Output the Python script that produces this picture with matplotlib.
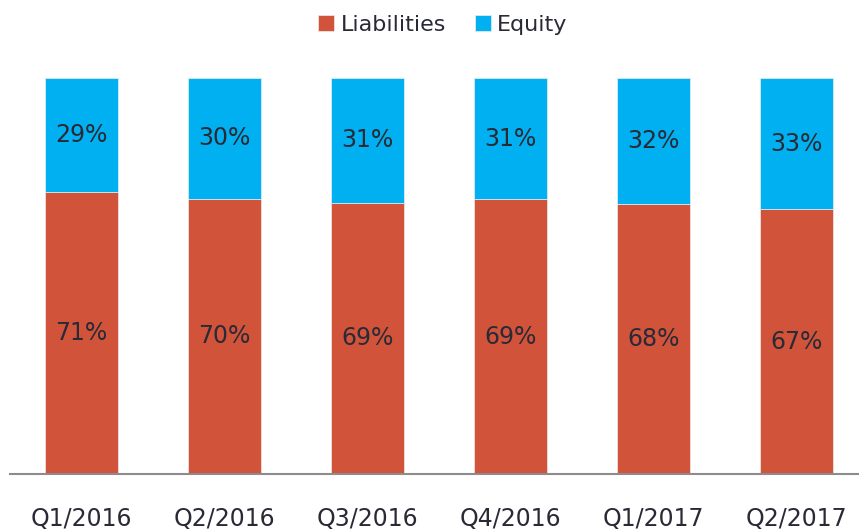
import matplotlib.pyplot as plt
import numpy as np

quarters = ['Q1/2016', 'Q2/2016', 'Q3/2016', 'Q4/2016', 'Q1/2017', 'Q2/2017']
# bar shares as drawn (labels are the rounded figures shown on the chart)
liabilities = [71.1, 69.5, 68.5, 69.4, 68.2, 66.9]
equity = [28.9, 30.5, 31.5, 30.6, 31.8, 33.1]
liab_labels = ['71%', '70%', '69%', '69%', '68%', '67%']
equity_labels = ['29%', '30%', '31%', '31%', '32%', '33%']

red = '#d1533a'
blue = '#00b0f0'
text_col = '#2a2a36'

fig = plt.figure(figsize=(8.59, 5.32), dpi=100)
ax = fig.add_axes([10 / 859, 1 - 474 / 532, 858 / 859, 396 / 532])

x = np.arange(len(quarters))
b1 = ax.bar(x, liabilities, width=0.51, color=red, edgecolor='#eeeeee', linewidth=0.5,
            label='Liabilities')
b2 = ax.bar(x, equity, width=0.51, bottom=liabilities, color=blue, edgecolor='#eeeeee',
            linewidth=0.5, label='Equity')

for i in range(len(quarters)):
    ax.text(x[i], liabilities[i] / 2, liab_labels[i], ha='center', va='center',
            fontsize=17, color=text_col)
    ax.text(x[i], liabilities[i] + equity[i] / 2, equity_labels[i], ha='center', va='center',
            fontsize=17, color=text_col)

ax.set_xlim(-0.5, 5.5)
ax.set_ylim(0, 100)
ax.set_xticks(x)
ax.set_xticklabels(quarters, fontsize=17, color=text_col)
ax.tick_params(axis='x', length=0, pad=24)
ax.set_yticks([])
for s in ['top', 'right', 'left']:
    ax.spines[s].set_visible(False)
ax.spines['bottom'].set_color('#8c8c8c')
ax.spines['bottom'].set_linewidth(1.5)

fig.legend(handles=[b1, b2], loc='center', bbox_to_anchor=(443 / 859, 1 - 25 / 532),
           ncol=2, frameon=False, fontsize=16, handlelength=0.7, handleheight=0.7,
           handletextpad=0.3, columnspacing=1.3, labelcolor=text_col)

fig.savefig('out.png', dpi=100)
